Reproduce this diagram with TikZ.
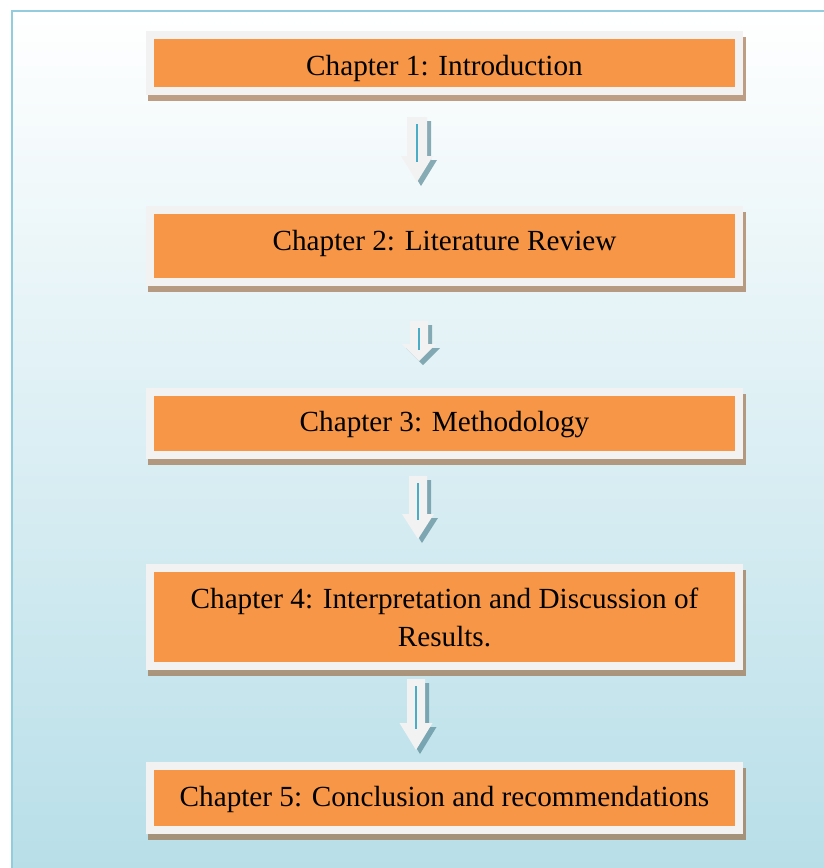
\documentclass[tikz,border=0pt]{standalone}
\usepackage{fontspec}
\setmainfont{Liberation Serif}
\usetikzlibrary{calc}

\definecolor{chorange}{HTML}{F79646}
\definecolor{framegrey}{HTML}{F2F2F2}
\definecolor{bgblue}{HTML}{B7DEE8}
\definecolor{rimblue}{HTML}{93CDDD}
\definecolor{shadowbrown}{RGB}{150,95,50}
\definecolor{arrowshadecol}{RGB}{90,138,152}
\definecolor{arrowline}{HTML}{4BACC6}

\pgfdeclarelayer{backdrop}
\pgfdeclarelayer{shade}
\pgfsetlayers{backdrop,shade,main}

% #1 centre x, #2 top, #3 start of head, #4 tip, #5 half shaft width, #6 half head width
\newcommand\blockdownarrow[6]{%
  \fill[arrowshadecol, opacity=0.7, shift={(4,4)}]
    ({#1-#5},#2) -- ({#1+#5},#2) -- ({#1+#5},#3) -- ({#1+#6},#3) -- (#1,#4)
    -- ({#1-#6},#3) -- ({#1-#5},#3) -- cycle;
  \fill[framegrey]
    ({#1-#5},#2) -- ({#1+#5},#2) -- ({#1+#5},#3) -- ({#1+#6},#3) -- (#1,#4)
    -- ({#1-#6},#3) -- ({#1-#5},#3) -- cycle;
  \draw[arrowline, line width=1.6pt] (#1,{#2+7}) -- (#1,{#3+6});
}

\begin{document}
\begin{tikzpicture}[x=1pt, y=-1pt,
  chapbox/.style={fill=chorange, draw=framegrey, line width=8pt,
    minimum width=589pt, inner sep=0pt},
  chaptext/.style={inner sep=0pt, align=center, text=black,
    font=\fontsize{29.2}{38}\selectfont}]
\useasboundingbox (0,0) rectangle (824,868);

% page background with its frame
\begin{pgfonlayer}{backdrop}
  \shade[top color=white, bottom color=bgblue] (12,11) rectangle (830,880);
  \draw[rimblue, line width=2.5pt] (12,880) -- (12,11) -- (830,11);
\end{pgfonlayer}

% chapter boxes
\node[chapbox, minimum height=56pt] (c1) at (444.5,63)    {};
\node[chapbox, minimum height=72pt] (c2) at (444.5,246)   {};
\node[chapbox, minimum height=63pt] (c3) at (444.5,423.5) {};
\node[chapbox, minimum height=98pt] (c4) at (444.5,617)   {};
\node[chapbox, minimum height=64pt] (c5) at (444.5,798)   {};

% chapter titles
\node[chaptext] (t1) at ([yshift=-5pt]c1.center) {Chapter 1: Introduction};
\node[chaptext] (t2) at ([yshift=3pt]c2.center)  {Chapter 2: Literature Review};
\node[chaptext] (t3) at ([yshift=-1pt]c3.center) {Chapter 3: Methodology};
\node[chaptext] (t4) at (c4.center) {Chapter 4: Interpretation and Discussion of\\Results.};
\node[chaptext] (t5) at ([yshift=-1pt]c5.center) {Chapter 5: Conclusion and recommendations};

% box shadows
\begin{pgfonlayer}{shade}
  \foreach \b in {c1,c2,c3,c4,c5}
    \fill[shadowbrown, opacity=0.6]
      ([shift={(2,6)}]\b.south west) rectangle ([shift={(3,6)}]\b.north east);
\end{pgfonlayer}

% arrows between the chapters
\blockdownarrow{417}{117}{156}{182}{10}{16}
\blockdownarrow{419}{321}{344}{361}{9}{17}
\blockdownarrow{418}{476}{514}{539}{9}{16}
\blockdownarrow{416}{679}{723}{750}{9}{16.5}
\end{tikzpicture}
\end{document}
